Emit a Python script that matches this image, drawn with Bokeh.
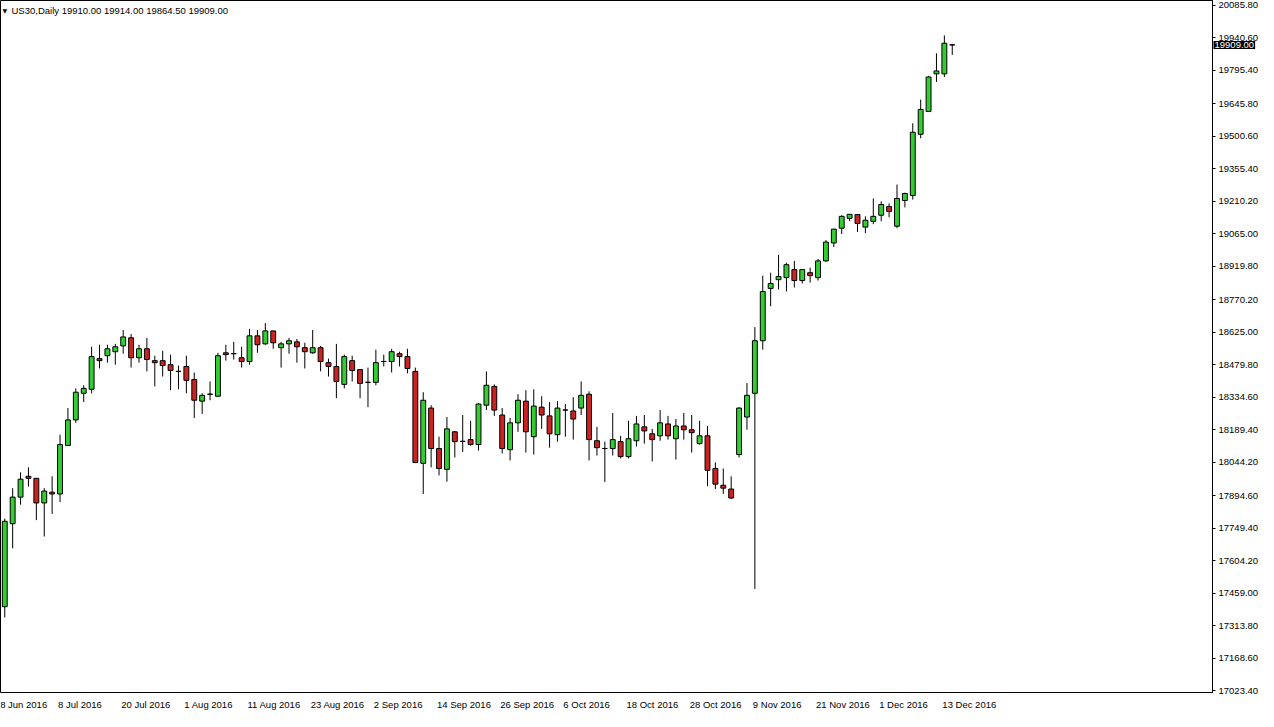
from bokeh.plotting import figure
from bokeh.layouts import column
from bokeh.models import LinearAxis, FixedTicker, Label, Range1d, ColumnDataSource, PrintfTickFormatter
from bokeh.embed import file_html
from bokeh.resources import INLINE

symbol = "US30"
timeframe = "Daily"

opens = [
    17398, 17769, 17888, 17981, 17972, 17862, 17910, 17902, 18119, 18233,
    18352, 18370, 18507, 18520, 18538, 18564, 18600, 18511, 18551, 18498,
    18498, 18480, 18450.5, 18472, 18414, 18317, 18348.5, 18339, 18533, 18529.5,
    18511, 18494, 18609, 18573, 18631, 18556, 18573, 18582, 18556, 18533,
    18556, 18489, 18472, 18392, 18498, 18458, 18401.5, 18401, 18494.5, 18494,
    18529, 18516, 18450, 18039, 18286, 18105, 18012, 18180, 18137.5, 18145,
    18123, 18299, 18383, 18255, 18100, 18220, 18317, 18158, 18290, 18251,
    18167, 18277.5, 18273, 18286, 18348, 18140, 18105.5, 18105, 18136, 18069,
    18140, 18202, 18171, 18162, 18215, 18149, 18206, 18189, 18127, 18162,
    18016, 17941, 17924, 18078, 18246, 18352, 18587, 18821, 18860, 18869,
    18905, 18856, 18891, 18869, 18944, 19024, 19090, 19134, 19151, 19095,
    19121, 19148, 19187, 19099, 19214, 19236, 19510, 19612, 19780, 19780,
    19910,
]
highs = [
    17792, 17928, 17999, 18021, 17972, 17928, 17981, 18167, 18286, 18374,
    18388, 18560, 18569, 18569, 18573, 18635, 18617, 18569, 18600, 18520,
    18542, 18525, 18476, 18520, 18445, 18352, 18405, 18533, 18569, 18582,
    18560, 18640, 18635, 18666, 18631, 18582, 18600, 18595, 18578, 18635,
    18564, 18507, 18573, 18525, 18520, 18458, 18467, 18547, 18525, 18551,
    18538, 18551, 18467, 18357, 18299, 18158, 18246, 18184, 18255, 18229,
    18308, 18450, 18392, 18286, 18242, 18348, 18366, 18370, 18339, 18313,
    18317, 18304, 18335, 18405, 18361, 18202, 18136, 18264, 18162, 18229,
    18251, 18255, 18193, 18277, 18251, 18237, 18264, 18255, 18229, 18206,
    18043, 18016, 17981, 18290, 18398, 18648, 18878, 18891, 18971, 18936,
    18944, 18905, 18914, 18953, 19037, 19086, 19148, 19152, 19151, 19143,
    19223, 19210, 19201, 19285, 19249, 19559, 19665, 19771, 19872, 19952,
    19914,
]
lows = [
    17350, 17659, 17854, 17935, 17785, 17712, 17813, 17866, 18119, 18220,
    18313, 18352, 18463, 18489, 18480, 18529, 18467, 18489, 18450, 18383,
    18427, 18366, 18370, 18352, 18242, 18260, 18321, 18339, 18498, 18503,
    18467, 18480, 18533, 18569, 18551, 18467, 18529, 18489, 18463, 18529,
    18450, 18427, 18330, 18374, 18405, 18330, 18290, 18388, 18472, 18445,
    18472, 18441, 18043, 17902, 18021, 17985, 17957, 18065, 18090, 18118,
    18096, 18277, 18251, 18083, 18052, 18180, 18087, 18078, 18193, 18109,
    18136, 18158, 18145, 18255, 18052, 18074, 17955, 18074, 18061, 18061,
    18114, 18127, 18047, 18140, 18145, 18056, 18145, 18087, 18123, 17937,
    17924, 17902, 17879, 18065, 18189, 17477, 18547, 18741, 18816, 18807,
    18825, 18843, 18847, 18856, 18940, 19006, 19064, 19121, 19073, 19068,
    19108, 19121, 19139, 19090, 19183, 19218, 19492, 19612, 19744, 19766,
    19864.5,
]
closes = [
    17780, 17888, 17968, 17972, 17862, 17915, 17902, 18123, 18233, 18357,
    18374, 18516, 18498, 18551, 18560, 18604, 18511, 18551, 18503, 18489,
    18476, 18454, 18449.5, 18410, 18321, 18343, 18347.5, 18520, 18525, 18529,
    18494, 18609, 18569, 18631, 18578, 18573, 18587, 18560, 18538, 18556,
    18494, 18472, 18405, 18516, 18454, 18396, 18401, 18489, 18494, 18538,
    18516, 18463, 18043, 18321, 18105, 18016, 18193, 18136, 18137, 18123,
    18304, 18388, 18277, 18105, 18220, 18321, 18180, 18295, 18255, 18171,
    18286, 18277, 18237, 18343, 18145, 18109, 18105, 18145, 18069, 18149,
    18215, 18184, 18145, 18220, 18162, 18206, 18189, 18176, 18162, 18008,
    17946, 17928, 17884, 18286, 18343, 18587, 18807, 18843, 18874, 18927,
    18856, 18905, 18878, 18944, 19028, 19086, 19143, 19152, 19111, 19126,
    19143, 19196, 19165, 19223, 19245, 19519, 19621, 19766, 19793, 19917,
    19909,
]

date_labels = ["28 Jun 2016", "8 Jul 2016", "20 Jul 2016", "1 Aug 2016", "11 Aug 2016",
               "23 Aug 2016", "2 Sep 2016", "14 Sep 2016", "26 Sep 2016", "6 Oct 2016",
               "18 Oct 2016", "28 Oct 2016", "9 Nov 2016", "21 Nov 2016", "1 Dec 2016",
               "13 Dec 2016"]
date_label_bars = [-1, 7, 15, 23, 31, 39, 47, 55, 63, 71, 79, 87, 95, 103, 111, 119]

price_ticks = [20085.8, 19940.6, 19795.4, 19645.8, 19500.6, 19355.4, 19210.2, 19065.0,
               18919.8, 18770.2, 18625.0, 18479.8, 18334.6, 18189.4, 18044.2, 17894.6,
               17749.4, 17604.2, 17459.0, 17313.8, 17168.6, 17023.4]

BULL = "#33CC33"
BEAR = "#CC2222"
FONT = "Liberation Sans"
FRAME_W = 1212

n = len(opens)
src = ColumnDataSource(dict(
    x=list(range(n)),
    high=highs,
    low=lows,
    top=[max(o, c) for o, c in zip(opens, closes)],
    bottom=[min(o, c) for o, c in zip(opens, closes)],
    color=[BULL if c >= o else BEAR for o, c in zip(opens, closes)],
))

X0, X1 = -0.54, 152.96
p = figure(frame_width=FRAME_W, frame_height=692, output_backend="svg", toolbar_location=None,
           x_range=Range1d(X0, X1), y_range=Range1d(17014.6, 20107.9),
           x_axis_location=None, y_axis_location=None,
           min_border_left=0, min_border_top=0, min_border_right=0, min_border_bottom=6,
           background_fill_color="white", border_fill_color="white")
p.outline_line_color = "black"
p.outline_line_width = 1
p.grid.visible = False

yaxis = LinearAxis(ticker=FixedTicker(ticks=price_ticks),
                   formatter=PrintfTickFormatter(format="%.2f"))
yaxis.axis_line_color = "black"
yaxis.major_tick_line_color = "black"
yaxis.major_tick_out = 3
yaxis.major_tick_in = 0
yaxis.minor_tick_line_color = None
yaxis.major_label_standoff = 3
yaxis.major_label_text_font = FONT
yaxis.major_label_text_font_size = "9.5px"
yaxis.major_label_text_color = "black"
p.add_layout(yaxis, "right")

p.segment(x0="x", y0="low", x1="x", y1="high", source=src, line_color="black", line_width=1)
p.vbar(x="x", width=0.62, top="top", bottom="bottom", source=src,
       fill_color="color", line_color="black", line_width=1)

title_text = "%s,%s  %.2f %.2f %.2f %.2f" % (symbol, timeframe, opens[-1], highs[-1], lows[-1], closes[-1])
p.add_layout(Label(x=2, y=682, x_units="screen", y_units="screen", text="\u25BC",
                   text_font="DejaVu Sans", text_font_size="6px", text_baseline="middle",
                   text_color="black"))
p.add_layout(Label(x=11, y=682, x_units="screen", y_units="screen", text=title_text,
                   text_font=FONT, text_font_size="9.5px", text_baseline="middle",
                   text_color="black"))

price_box = Label(x=X1, y=closes[-1], x_units="data", y_units="data", x_offset=1,
                  text="%.2f" % closes[-1], text_font=FONT, text_font_size="9.5px",
                  text_baseline="middle", text_align="left", text_color="white",
                  background_fill_color="black")
if "padding" in price_box.properties():
    price_box.padding = 1
p.add_layout(price_box, "right")

# date strip below the chart
s = figure(frame_width=FRAME_W, height=13, output_backend="svg", toolbar_location=None,
           x_range=p.x_range, y_range=Range1d(0, 13),
           x_axis_location=None, y_axis_location=None,
           min_border_left=0, min_border_top=0, min_border_right=0, min_border_bottom=0,
           background_fill_color="white", border_fill_color="white")
s.outline_line_color = None
s.grid.visible = False
dsrc = ColumnDataSource(dict(x=date_label_bars, text=date_labels))
s.text(x="x", y=12.5, text="text", source=dsrc, x_offset=-2, text_align="left",
       text_baseline="top", text_font_size="9.5px", text_color="black",
       text_font={"value": FONT})

layout = column(p, s, spacing=0)
open("out.html", "w").write(file_html(layout, INLINE))
